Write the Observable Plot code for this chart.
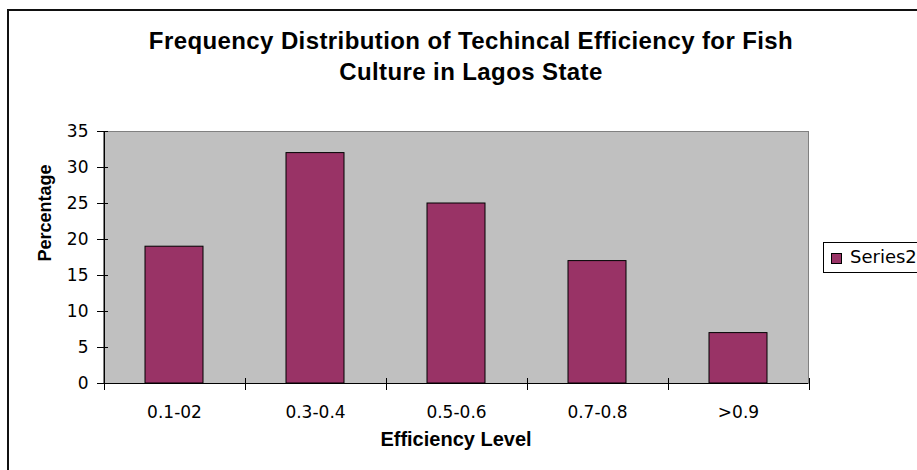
<!DOCTYPE html>
<html><head><meta charset="utf-8">
<script src="https://cdn.jsdelivr.net/npm/d3@7"></script>
<script src="https://cdn.jsdelivr.net/npm/@observablehq/plot@0.6"></script>
<style>
html,body{margin:0;padding:0;background:#fff;overflow:hidden;}
#wrap{position:relative;width:917px;height:470px;overflow:hidden;font-family:"Liberation Sans",Arial,sans-serif;background:#fff;}
#border{position:absolute;left:7px;top:9px;width:1000px;height:1000px;border:2px solid #111;box-sizing:border-box;}
#chart{position:absolute;left:0;top:0;}
#title{position:absolute;left:71px;top:25px;width:800px;text-align:center;font-weight:bold;font-size:24px;line-height:31px;letter-spacing:0.4px;color:#000;}
#legend{position:absolute;left:823px;top:242px;width:140px;height:31px;border:1px solid #000;box-sizing:border-box;background:#fff;}
#legend .sw{position:absolute;left:7px;top:10px;width:9px;height:9px;border:1px solid #000;}
#legend .lt{position:absolute;left:26px;top:3px;font-family:"DejaVu Sans",sans-serif;font-size:18px;line-height:normal;color:#000;white-space:nowrap;}
</style></head><body>
<div id="wrap">
  <div id="border"></div>
  <div id="chart"></div>
  <div id="title">Frequency Distribution of Techincal Efficiency for Fish<br>Culture in Lagos State</div>
  <div id="legend"><span class="sw"></span><span class="lt"></span></div>
</div>
<script>
const categories = ["0.1-02", "0.3-0.4", "0.5-0.6", "0.7-0.8", ">0.9"];
const values = [19, 32, 25, 17, 7];
const yTicks = [0, 5, 10, 15, 20, 25, 30, 35];
const seriesName = "Series2";
const xLabel = "Efficiency Level";
const yLabel = "Percentage";
const barColor = "#993366";

const data = categories.map((c, i) => ({cat: c, value: values[i]}));

function xBoundaryTicks(index, scales) {
  const x = scales.x, y = scales.y;
  const step = x.step(), bw = x.bandwidth();
  const y0 = y(0), yTop = y(yTicks[yTicks.length - 1]);
  const centers = categories.map(c => x(c) + bw / 2);
  const bounds = centers.map(c => c - step / 2).concat([centers[centers.length - 1] + step / 2]);
  const g = d3.create("svg:g").attr("stroke", "black").attr("stroke-width", 1);
  const bx = Math.round(bounds[0]) + 0.5;
  g.append("line").attr("x1", bx).attr("x2", bx).attr("y1", yTop).attr("y2", y0);
  for (const b of bounds) {
    const xb = Math.round(b) + 0.5;
    g.append("line").attr("x1", xb).attr("x2", xb).attr("y1", y0 - 5).attr("y2", y0 + 7);
  }
  return g.node();
}

const tickFont = "'DejaVu Sans', sans-serif";

const chart = Plot.plot({
  width: 917,
  height: 470,
  marginLeft: 103,
  marginRight: 109,
  marginTop: 131,
  marginBottom: 87,
  style: {fontFamily: "'Liberation Sans', Arial, sans-serif", fontSize: "18px", background: "transparent", color: "#000"},
  x: {domain: categories, paddingInner: 0.59, paddingOuter: 0.295, label: null},
  y: {domain: [0, 35], label: null},
  marks: [
    Plot.frame({fill: "#C0C0C0", stroke: "#808080"}),
    Plot.barY(data, {x: "cat", y: "value", fill: barColor, stroke: "black", strokeWidth: 1}),
    Plot.ruleY([0], {stroke: "black", strokeWidth: 1}),
    xBoundaryTicks,
    Plot.axisY({ticks: yTicks, tickSize: 11, dx: 5, tickPadding: 9, fontSize: 17, fontFamily: tickFont, label: null, tickFormat: d => String(d)}),
    Plot.axisX({tickSize: 0, tickPadding: 22, fontSize: 17, fontFamily: tickFont, label: null}),
    Plot.text([yLabel], {text: d => d, frameAnchor: "left", rotate: -90, dx: -58, dy: 4, fontWeight: "bold", fontSize: 18}),
    Plot.text([xLabel], {text: d => d, frameAnchor: "bottom", dy: 62, fontWeight: "bold", fontSize: 20})
  ]
});
document.getElementById("chart").appendChild(chart);
document.querySelector("#legend .sw").style.background = barColor;
document.querySelector("#legend .lt").textContent = seriesName;
</script>
</body></html>
